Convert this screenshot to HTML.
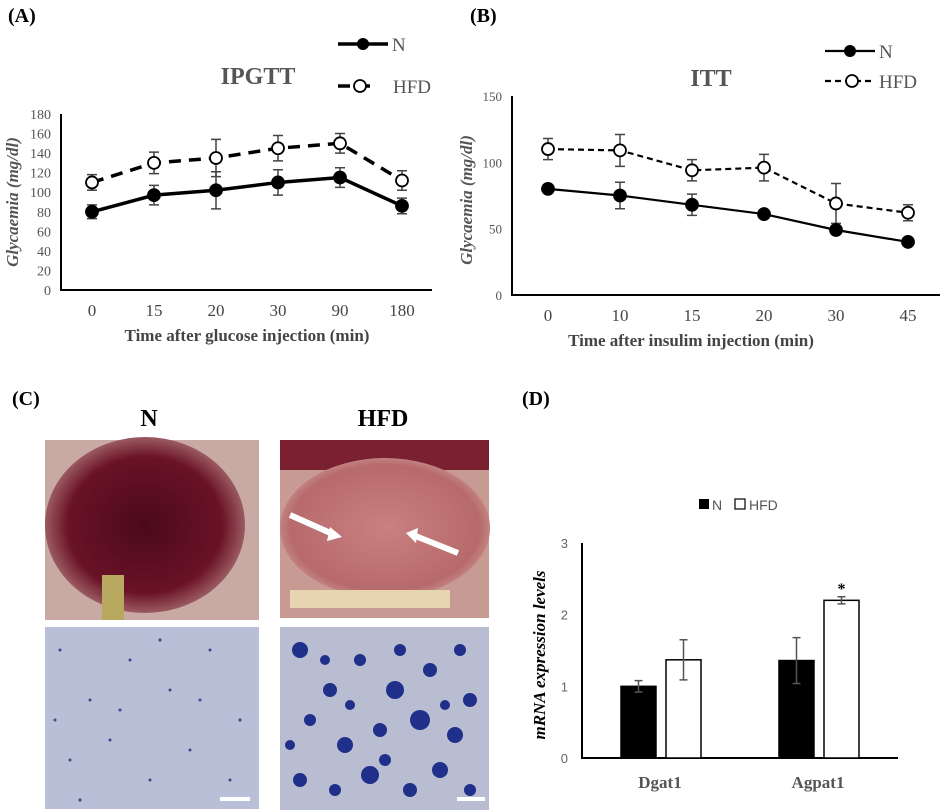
<!DOCTYPE html>
<html><head><meta charset="utf-8"><style>
body{margin:0;background:#fff;width:948px;height:812px;overflow:hidden}
svg{display:block}
text{font-family:"Liberation Serif",serif}
text.sans{font-family:"Liberation Sans",sans-serif}
</style></head><body>
<svg id="fig" width="948" height="812" viewBox="0 0 948 812">
<defs>
<radialGradient id="liverN" cx="50%" cy="50%" r="55%"><stop offset="0" stop-color="#4a0a1a"/><stop offset="0.7" stop-color="#6a1226"/><stop offset="1" stop-color="#b07a7a"/></radialGradient>
<radialGradient id="liverH" cx="50%" cy="50%" r="60%"><stop offset="0" stop-color="#c98080"/><stop offset="0.75" stop-color="#b76a6c"/><stop offset="1" stop-color="#d6b0a8"/></radialGradient>
</defs>
<text x="8" y="22" font-size="20" font-weight="bold">(A)</text>
<text x="470" y="22" font-size="20" font-weight="bold">(B)</text>
<text x="12" y="405" font-size="20" font-weight="bold">(C)</text>
<text x="522" y="405" font-size="20" font-weight="bold">(D)</text>
<g id="chartA"></g>
<g id="chartB"></g>
<g id="chartD"></g>
<g>
<text x="149" y="426" font-size="24" font-weight="bold" text-anchor="middle">N</text>
<text x="383" y="426" font-size="24" font-weight="bold" text-anchor="middle">HFD</text>
<rect x="45" y="440" width="214" height="180" fill="#c9a9a3"/>
<ellipse cx="145" cy="525" rx="100" ry="88" fill="url(#liverN)"/>
<rect x="102" y="575" width="22" height="45" fill="#b9a860"/>
<rect x="280" y="440" width="209" height="178" fill="#c89a94"/>
<rect x="280" y="440" width="209" height="30" fill="#7a2030"/>
<ellipse cx="385" cy="528" rx="105" ry="70" fill="url(#liverH)"/>
<rect x="290" y="590" width="160" height="18" fill="#e6d5b0"/>
<line x1="290" y1="515" x2="335" y2="535" stroke="#fff" stroke-width="6"/>
<polygon points="330,527 342,537 327,541" fill="#fff"/>
<line x1="458" y1="553" x2="413" y2="535" stroke="#fff" stroke-width="6"/>
<polygon points="418,528 406,533 416,543" fill="#fff"/>
<rect x="45" y="627" width="214" height="182" fill="#b8bfd6"/>
<g fill="#3a4a8a" id="dotsN"></g>
<rect x="220" y="797" width="30" height="4" fill="#fff"/>
<rect x="280" y="627" width="209" height="183" fill="#b8bdd2"/>
<g fill="#1f2f8a" id="blobs"></g>
<rect x="457" y="797" width="28" height="4" fill="#fff"/>
</g>
</svg>
<script>
// ---------- Panel A data ----------
var aCats=["0","15","20","30","90","180"];
var aN=[80,97,102,110,115,86];
var aNerr=[7,10,19,13,10,8];
var aH=[110,130,135,145,150,112];
var aHerr=[8,11,19,13,10,10];
var aTicks=[0,20,40,60,80,100,120,140,160,180];
// ---------- Panel B data ----------
var bCats=["0","10","15","20","30","45"];
var bN=[80,75,68,61,49,40];
var bNerr=[3,10,8,3,2,2];
var bH=[110,109,94,96,69,62];
var bHerr=[8,12,8,10,15,6];
var bTicks=[0,50,100,150];
// ---------- Panel D data ----------
var dCats=["Dgat1","Agpat1"];
var dN=[1.0,1.36];
var dNerr=[0.08,0.32];
var dH=[1.37,2.2];
var dHerr=[0.28,0.05];
var dTicks=[0,1,2,3];
var dSig=["","*"];

var NS="http://www.w3.org/2000/svg";
function mk(p,t,a){var e=document.createElementNS(NS,t);for(var k in a)e.setAttribute(k,a[k]);p.appendChild(e);return e;}
function txt(p,x,y,s,a){var e=mk(p,"text",Object.assign({x:x,y:y},a));e.textContent=s;return e;}

function lineChart(g,cfg){
  var y=function(v){return cfg.y0-(v-cfg.min)/(cfg.max-cfg.min)*(cfg.y0-cfg.y1);};
  var x=function(i){return cfg.x0+cfg.step*(i+0.5);};
  var ax=mk(g,"path",{d:"M"+cfg.x0+","+cfg.y1+" V"+cfg.y0+" H"+cfg.xEnd,stroke:"#000","stroke-width":2,fill:"none"});
  
  
  cfg.ticks.forEach(function(t){
    var e=txt(g,cfg.x0-10,y(t)+5,String(t),{"font-size":cfg.tfs,fill:"#555","text-anchor":"end"});
    
    
  });
  cfg.cats.forEach(function(c,i){
    var e=txt(g,x(i),cfg.y0+26,c,{"font-size":17,fill:"#444","text-anchor":"middle"});
    
    
  });
  [[cfg.H,cfg.Herr,false],[cfg.N,cfg.Nerr,true]].forEach(function(s){
    var d=s[0].map(function(v,i){return (i?"L":"M")+x(i)+","+y(v);}).join(" ");
    var l=mk(g,"path",{d:d,stroke:"#000","stroke-width":cfg.lw,fill:"none","stroke-dasharray":s[2]?"":cfg.dash});
    
    
    s[0].forEach(function(v,i){
      var eb=mk(g,"path",{d:"M"+x(i)+","+y(v+s[1][i])+"V"+y(v-s[1][i])+"M"+(x(i)-5)+","+y(v+s[1][i])+"h10M"+(x(i)-5)+","+y(v-s[1][i])+"h10",stroke:"#444","stroke-width":1.5,fill:"none"});
      
      
      var p=mk(g,"circle",{cx:x(i),cy:y(v),r:6,fill:s[2]?"#000":"#fff",stroke:"#000","stroke-width":1.8});
      
      
    });
  });
  var t=txt(g,cfg.tx,cfg.ty,cfg.title,{"font-size":24,"font-weight":"bold",fill:"#555","text-anchor":"middle"});
  
  
  var xt=txt(g,cfg.xtx,cfg.y0+51,cfg.xtitle,{"font-size":17,"font-weight":"bold",fill:"#444","text-anchor":"middle"});
  
  
  var yt=txt(g,0,0,"Glycaemia (mg/dl)",{"font-size":17,"font-weight":"bold","font-style":"italic",fill:"#555","text-anchor":"middle",transform:"translate("+cfg.ytx+","+cfg.yty+") rotate(-90)"});
  
  
  var L=cfg.leg;
  var l1=mk(g,"path",{d:"M"+L.x+","+L.y1+"h"+L.w,stroke:"#000","stroke-width":cfg.lw});
  
  
  mk(g,"circle",{cx:L.x+L.w/2,cy:L.y1,r:6,fill:"#000"});
  var ln=txt(g,L.x+L.w+4,L.y1+7,"N",{"font-size":19,fill:"#555"});
  
  
  var l2=mk(g,"path",{d:"M"+L.x+","+L.y2+"h"+L.w2,stroke:"#000","stroke-width":cfg.lw,"stroke-dasharray":cfg.dash});
  
  
  mk(g,"circle",{cx:L.x+L.w2/2+2,cy:L.y2,r:6,fill:"#fff",stroke:"#000","stroke-width":1.8});
  var lh=txt(g,L.hx,L.y2+7,"HFD",{"font-size":19,fill:"#555"});
  
  
}
lineChart(document.getElementById("chartA"),{cats:aCats,N:aN,Nerr:aNerr,H:aH,Herr:aHerr,ticks:aTicks,min:0,max:180,
  x0:61,y0:290,y1:114,step:62,xEnd:432,lw:3.5,dash:"12,8",tfs:14,title:"IPGTT",tx:258,ty:84,xtitle:"Time after glucose injection (min)",xtx:247,ytx:18,yty:202,
  leg:{x:338,y1:44,w:50,y2:86,w2:40,hx:393}});
lineChart(document.getElementById("chartB"),{cats:bCats,N:bN,Nerr:bNerr,H:bH,Herr:bHerr,ticks:bTicks,min:0,max:150,
  x0:512,y0:295,y1:96,step:72,xEnd:940,lw:2.2,dash:"6,4",tfs:13,title:"ITT",tx:711,ty:86,xtitle:"Time after insulim injection (min)",xtx:691,ytx:472,yty:200,
  leg:{x:825,y1:51,w:50,y2:81,w2:50,hx:879}});

(function(){
  var g=document.getElementById("chartD");
  var x0=582,y0=758,y1=543,xEnd=898;
  var y=function(v){return y0-v/3*(y0-y1);};
  var gx=function(i){return 660+i*158;};
  var ax=mk(g,"path",{d:"M"+x0+","+y1+" V"+y0+" H"+xEnd,stroke:"#000","stroke-width":2,fill:"none"});
  
  
  dTicks.forEach(function(t){
    var e=txt(g,x0-14,y(t)+5,String(t),{"font-size":13,fill:"#666","text-anchor":"end","class":"sans"});
    
    
  });
  dCats.forEach(function(c,i){
    var e=txt(g,gx(i),788,c,{"font-size":17,"font-weight":"bold",fill:"#555","text-anchor":"middle"});
    
    
    [[dN,dNerr,"#000",-39],[dH,dHerr,"#fff",6]].forEach(function(s,k){
      var v=s[0][i],bx=gx(i)+s[3];
      var r=mk(g,"rect",{x:bx,y:y(v),width:35,height:y0-y(v),fill:s[2],stroke:"#000","stroke-width":1.5});
      
      
      var cx=bx+17.5,e1=s[1][i];
      var eb=mk(g,"path",{d:"M"+cx+","+y(v+e1)+"V"+y(v-e1)+"M"+(cx-4)+","+y(v+e1)+"h8M"+(cx-4)+","+y(v-e1)+"h8",stroke:"#555","stroke-width":1.5,fill:"none"});
      
      
      if(k&&dSig[i]){var st=txt(g,cx,y(v+e1)-3,dSig[i],{"font-size":16,"font-weight":"bold","text-anchor":"middle"});
        
        }
    });
  });
  var yt=txt(g,0,0,"mRNA expression levels",{"font-size":17,"font-weight":"bold","font-style":"italic","text-anchor":"middle",transform:"translate(545,655) rotate(-90)"});
  
  
  var s1=mk(g,"rect",{x:699,y:499,width:10,height:10,fill:"#000"});
  
  
  var t1=txt(g,712,510,"N",{"font-size":14,fill:"#555","class":"sans"});
  
  
  var s2=mk(g,"rect",{x:735,y:499,width:10,height:10,fill:"#fff",stroke:"#000","stroke-width":1.2});
  
  
  var t2=txt(g,749,510,"HFD",{"font-size":14,fill:"#555","class":"sans"});
  
  
})();

// decorative histology texture (photo, not data)
(function(){
  var g=document.getElementById("blobs");
  var pts=[[300,650,8],[330,690,7],[360,660,6],[395,690,9],[430,670,7],[460,650,6],[310,720,6],[345,745,8],[380,730,7],[420,720,10],[455,735,8],[300,780,7],[335,790,6],[370,775,9],[410,790,7],[440,770,8],[470,700,7],[325,660,5],[400,650,6],[350,705,5],[385,760,6],[470,790,6],[290,745,5],[445,705,5]];
  pts.forEach(function(p){mk(g,"circle",{cx:p[0],cy:p[1],r:p[2]});});
  var gn=document.getElementById("dotsN");
  var dn=[[60,650],[90,700],[130,660],[170,690],[210,650],[240,720],[70,760],[110,740],[150,780],[190,750],[230,780],[80,800],[200,700],[120,710],[160,640],[55,720]];
  dn.forEach(function(p){mk(gn,"circle",{cx:p[0],cy:p[1],r:1.5});});
})();
</script>
</body></html>
